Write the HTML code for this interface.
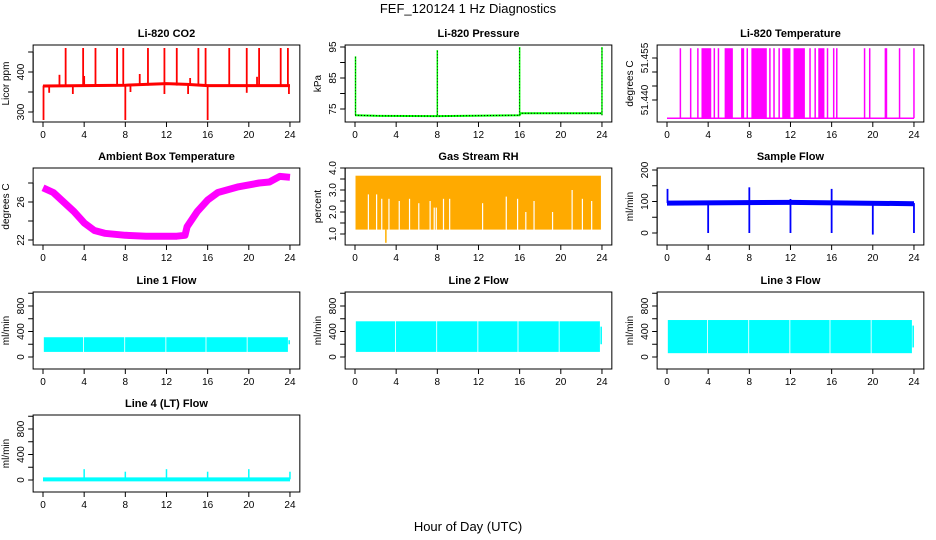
<!DOCTYPE html>
<html><head><meta charset="utf-8"><style>
html,body{margin:0;padding:0;background:#fff;}
svg{display:block;font-family:"Liberation Sans",Arial,sans-serif;}
</style></head><body>
<svg id="c" width="936" height="540" xmlns="http://www.w3.org/2000/svg">
<text x="468" y="13" text-anchor="middle" font-size="13">FEF_120124  1 Hz Diagnostics</text>
<text x="468" y="531" text-anchor="middle" font-size="13">Hour of Day (UTC)</text>
</svg>
<script>
// ---- data ----
const xTicks=[0,4,8,12,16,20,24];
const co2Base=[[0,365],[4,366],[8,367],[10,369],[12,371],[14,369],[16,366],[20,366],[24,366]];
const co2Up=[[2.2,460],[3.9,460],[5.1,460],[7.2,460],[7.8,460],[10.2,460],[11.8,460],[13,460],[15.1,460],[15.8,460],[18.1,460],[19.8,460],[21,460],[23.1,460],[23.8,460],[1.6,393],[4.0,390],[9.4,395],[14.3,385],[20.8,388]];
const co2Down=[[0.05,280],[8,280],[16,280],[0.6,348],[2.9,345],[8.5,350],[11.8,345],[14.1,345],[19.8,348],[23.9,345]];
const presBase=[[0,73],[2,72.8],[8,72.7],[16,73],[16.1,73.6],[24,73.6]];
const presSpikes=[[0.05,92],[8,94],[16,95],[24,95]];
const tempLow=51.4335, tempHigh=51.4585;
const tempLines=[1.3,2.3,3.0,4.6,5.0,7.8,10.0,10.4,10.9,13.9,14.4,15.6,16.2,16.5,19.2,19.7,22.6,24];
const tempBlocks=[[3.35,4.3],[5.6,6.4],[7.2,7.5],[8.2,9.7],[11.2,12.0],[12.3,13.4],[14.7,15.3],[21.15,21.4]];
const ambT=[0,1,2,3,4,5,6,7,8,10,12,13,13.8,14,15,16,17,18,19,20,21,22,23,24];
const ambV=[27.5,27,26,25,23.8,23,22.7,22.6,22.5,22.4,22.4,22.4,22.5,23.4,25,26.2,27,27.3,27.6,27.8,28,28.1,28.7,28.6];
const rhTop=3.65, rhBottom=1.2;
const rhGaps=[[1.3,2.8],[2.1,2.8],[2.6,2.6],[3.3,2.6],[4.3,2.5],[5.3,2.6],[6.2,2.4],[7.3,2.5],[7.7,2.2],[7.9,2.2],[8.6,2.6],[9.2,2.6],[12.4,2.4],[14.7,2.7],[15.8,2.6],[16.6,2.0],[17.4,2.5],[19.2,2.0],[21.1,3.0],[22.1,2.6],[23,2.5]];
const sfBase=95;
const sfDown=[[4,0],[8,0],[12,0],[16,0],[20,-5],[24,0]];
const sfUp=[[0.05,140],[8,145],[16,140],[12,108]];
const flowGapTimes=[0,3.9,7.9,11.9,15.8,19.8,23.8];
const line1=[80,310], line2=[80,560], line3=[60,580];
const lt4Base=10;
const lt4Spikes=[[4,170],[8,130],[12,170],[16,130],[20,170],[24,130]];

const svg=document.getElementById('c');
const NS='http://www.w3.org/2000/svg';
function mk(tag,attrs,parent){const e=document.createElementNS(NS,tag);for(const k in attrs)e.setAttribute(k,attrs[k]);(parent||svg).appendChild(e);return e;}
const colX=[43,355,667], rowTop=[45,168,292,415], BH=77, PXH=10.29;

function panel(col,row,title,ylab,ref,ticks,labels,name){
  const g=mk('g',{});
  
  
  const x0=colX[col], top=rowTop[row];
  const X=t=>x0+t*PXH;
  const k=(ref[3]-ref[1])/(ref[2]-ref[0]);
  const Y=v=>top+ref[1]+(v-ref[0])*k;
  const bl=X(-0.96), br=X(24.96);
  const t=mk('text',{x:(bl+br)/2,y:top-8,'text-anchor':'middle','font-size':11,'font-weight':'bold'},g);t.textContent=title;
  
  const yl=mk('text',{transform:`translate(${bl-24},${top+BH/2}) rotate(-90)`,'text-anchor':'middle','font-size':10},g);yl.textContent=ylab;
  
  const xa=mk('g',{},g);
  const by=top+BH;
  mk('line',{x1:X(0),x2:X(24),y1:by,y2:by,stroke:'#000'},xa);
  xTicks.forEach(v=>{mk('line',{x1:X(v),x2:X(v),y1:by,y2:by+5,stroke:'#000'},xa);
    const l=mk('text',{x:X(v),y:by+16,'text-anchor':'middle','font-size':10},xa);l.textContent=v;});
  const ya=mk('g',{},g);
  mk('line',{x1:bl,x2:bl,y1:Y(ticks[0]),y2:Y(ticks[ticks.length-1]),stroke:'#000'},ya);
  ticks.forEach(v=>mk('line',{x1:bl,x2:bl-5,y1:Y(v),y2:Y(v),stroke:'#000'},ya));
  labels.forEach(v=>{const l=mk('text',{transform:`translate(${bl-9},${Y(v)}) rotate(-90)`,'text-anchor':'middle','font-size':10},ya);l.textContent=v;});
  const plot=mk('g',{},g);
  mk('rect',{x:bl,y:top,width:br-bl,height:BH,fill:'none',stroke:'#000'},g);
  return {X,Y,plot};
}
function vline(p,t,v1,v2,col,w){return mk('line',{x1:p.X(t),x2:p.X(t),y1:p.Y(v1),y2:p.Y(v2),stroke:col,'stroke-width':w||1.5},p.plot);}
function path(p,pts,col,w,extra){let d=pts.map((q,i)=>(i?'L':'M')+p.X(q[0]).toFixed(1)+','+p.Y(q[1]).toFixed(1)).join('');const e=mk('path',Object.assign({d,fill:'none',stroke:col,'stroke-width':w||1.5},extra||{}),p.plot);return e;}

let p=panel(0,0,'Li-820 CO2','Licor ppm',[300,67,400,27],[300,350,400,450],[300,400],'co2');
path(p,co2Base,'#f00',3);
co2Up.forEach(s=>vline(p,s[0],366,s[1],'#f00',1.8));
co2Down.forEach(s=>vline(p,s[0],366,s[1],'#f00',1.8));

p=panel(1,0,'Li-820 Pressure','kPa',[95,2,75,64],[75,80,85,90,95],[75,85,95],'pressure');
path(p,presBase,'#0f0',2);
path(p,presBase,'#000',1,{'stroke-dasharray':'1,2'});
presSpikes.forEach(s=>{vline(p,s[0],73,s[1],'#0f0',1.5);vline(p,s[0],73,s[1],'#000',0.8).setAttribute('stroke-dasharray','1,2');});

p=panel(2,0,'Li-820 Temperature','degrees C',[51.440,55,51.455,13],[51.440,51.445,51.450,51.455],['51.440','51.455'],'li820-temp');
path(p,[[0,tempLow],[24,tempLow]],'#f0f',1.5);
tempLines.forEach(t=>vline(p,t,tempLow,tempHigh,'#f0f',1.5));
tempBlocks.forEach(b=>mk('rect',{x:p.X(b[0]),y:p.Y(tempHigh),width:p.X(b[1])-p.X(b[0]),height:p.Y(tempLow)-p.Y(tempHigh),fill:'#f0f'},p.plot));

p=panel(0,1,'Ambient Box Temperature','degrees C',[22,72,26,34],[22,24,26,28],[22,26],'ambient-temp');
path(p,ambT.map((t,i)=>[t,ambV[i]]),'#f0f',7,{'stroke-linejoin':'round'});

p=panel(1,1,'Gas Stream RH','percent',[4,0,1,66],[1,1.5,2,2.5,3,3.5,4],['1.0','2.0','3.0','4.0'],'rh');
mk('rect',{x:p.X(0.05),y:p.Y(rhTop),width:p.X(23.9)-p.X(0.05),height:p.Y(rhBottom)-p.Y(rhTop),fill:'#ffaa00'},p.plot);
rhGaps.forEach(gp=>vline(p,gp[0],rhBottom-0.05,gp[1],'#fff',1.2));
vline(p,3,1.2,0.6,'#ffb000',1.5);

p=panel(2,1,'Sample Flow','ml/min',[200,2,0,65],[0,50,100,150,200],[0,100,200],'sample-flow');
path(p,[[0,sfBase],[12,sfBase+2],[24,sfBase-2]],'#00f',5);
sfDown.forEach(s=>vline(p,s[0],sfBase,s[1],'#00f',1.8));
sfUp.forEach(s=>vline(p,s[0],sfBase,s[1],'#00f',1.8));

function flow(col,row,title,rng,name){
  const q=panel(col,row,title,'ml/min',[0,65,800,14],[0,200,400,600,800,1000],[0,400,800],name);
  for(let i=0;i<flowGapTimes.length-1;i++){
    const a=flowGapTimes[i]+0.08,b=flowGapTimes[i+1];
    mk('rect',{x:q.X(a),y:q.Y(rng[1]),width:q.X(b)-q.X(a),height:q.Y(rng[0])-q.Y(rng[1]),fill:'#0ff'},q.plot);
  }
  mk('rect',{x:q.X(23.85),y:q.Y(rng[1]*0.85),width:q.X(24)-q.X(23.85),height:q.Y(rng[0]*2.5)-q.Y(rng[1]*0.85),fill:'#0ff'},q.plot);
  return q;
}
flow(0,2,'Line 1 Flow',line1,'line1-flow');
flow(1,2,'Line 2 Flow',line2,'line2-flow');
flow(2,2,'Line 3 Flow',line3,'line3-flow');
p=panel(0,3,'Line 4 (LT) Flow','ml/min',[0,65,800,14],[0,200,400,600,800,1000],[0,400,800],'line4-flow');
path(p,[[0,lt4Base],[24,lt4Base]],'#0ff',4);
lt4Spikes.forEach(s=>vline(p,s[0],lt4Base,s[1],'#0ff',1.5));
</script>
</body></html>
